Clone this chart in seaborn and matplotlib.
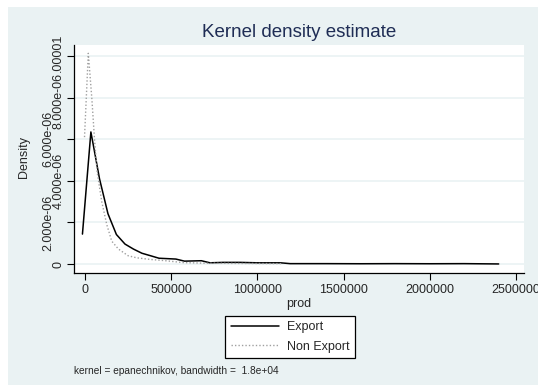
import numpy as np
import pandas as pd
import matplotlib
matplotlib.use("Agg")
import matplotlib.pyplot as plt
import matplotlib.transforms as mtransforms
import seaborn as sns

# kdensity values (x = prod, y = density)
export_x = [-15000, 34000, 84000, 133000, 182000, 232000, 281000, 330000, 380000,
            429000, 478000, 527000, 577000, 626000, 675000, 725000, 800000, 900000,
            1000000, 1134000, 1190000, 1400000, 1600000, 1800000, 2000000, 2200000, 2400000]
export_y = [1.44e-6, 6.35e-6, 4.1e-6, 2.42e-6, 1.42e-6, 0.96e-6, 0.72e-6, 0.52e-6, 0.40e-6,
            0.28e-6, 0.26e-6, 0.24e-6, 0.14e-6, 0.15e-6, 0.16e-6, 0.06e-6, 0.08e-6, 0.08e-6,
            0.06e-6, 0.06e-6, 0.02e-6, 0.02e-6, 0.015e-6, 0.02e-6, 0.015e-6, 0.02e-6, 0.005e-6]

nonexp_x = [-3000, 19000, 40000, 55000, 70000, 97000, 126000, 155000, 194000, 250000,
            300000, 380000, 455000, 570000, 700000, 900000, 1150000]
nonexp_y = [6.1e-6, 10.13e-6, 7.9e-6, 6.0e-6, 4.45e-6, 3.0e-6, 1.9e-6, 1.1e-6, 0.72e-6, 0.40e-6,
            0.30e-6, 0.22e-6, 0.17e-6, 0.07e-6, 0.04e-6, 0.03e-6, 0.02e-6]

xticks = [0, 500000, 1000000, 1500000, 2000000, 2500000]
yticks = [0, 2e-6, 4e-6, 6e-6, 8e-6, 1e-5]
ytick_labels = ["0", "2.000e-06", "4.000e-06", "6.000e-06", "8.000e-06", ".00001"]

bg = "#eaf2f3"
sns.set_style("white")
plt.rcParams["font.family"] = ["Liberation Sans", "DejaVu Sans"]

fig = plt.figure(figsize=(5.38, 3.85), dpi=100)
fig.patch.set_facecolor("white")
# stata-like outer region (small white margin top/left)
fig.patches.append(plt.Rectangle((8 / 538, 0), 1, 1 - 7 / 385, transform=fig.transFigure,
                                 facecolor=bg, edgecolor="none", zorder=-10))

ax = fig.add_axes([74 / 538, 1 - 273 / 385, 450 / 538, 228 / 385])
ax.set_facecolor("white")

df_exp = pd.DataFrame({"prod": export_x, "Density": export_y})
df_non = pd.DataFrame({"prod": nonexp_x, "Density": nonexp_y})

sns.lineplot(data=df_exp, x="prod", y="Density", ax=ax, color="black", lw=1.1,
             label="Export", legend=False)
sns.lineplot(data=df_non, x="prod", y="Density", ax=ax, color="#a0a0a0", lw=1.0,
             linestyle=(0, (1, 1.5)), label="Non Export", legend=False)

ax.set_xlim(-64000, 2547000)
ax.set_ylim(-4.3e-7, 1.053e-5)
ax.set_xticks(xticks)
ax.set_xticklabels([str(t) for t in xticks], fontsize=9)
ax.set_yticks(yticks)
ax.set_yticklabels([])
ax.yaxis.grid(True, color=bg, lw=1.2)
ax.set_axisbelow(True)

# y labels alternate between two columns, like the original
ytr = ax.get_yaxis_transform()
shifts = [0, 0, 0, 0, -3, 3]  # small vertical nudges (pixels) to keep the top two apart
for i, (t, lab) in enumerate(zip(yticks, ytick_labels)):
    xpos = -0.0571 if i in (1, 3) else -0.0349
    tr = mtransforms.offset_copy(ytr, fig=fig, x=0, y=shifts[i], units="dots")
    ax.text(xpos, t, lab, transform=tr, rotation=90, ha="center", va="center", fontsize=9)

for s in ["top", "right"]:
    ax.spines[s].set_visible(False)
for s in ["left", "bottom"]:
    ax.spines[s].set_color("black")
    ax.spines[s].set_linewidth(0.9)
ax.tick_params(axis="both", direction="out", length=5, width=0.8, color="black", bottom=True, left=True)
ax.tick_params(axis="x", pad=3)

ax.set_xlabel("prod", fontsize=9, labelpad=1)
ax.set_ylabel("Density", fontsize=9)
ax.yaxis.set_label_coords(-0.0978, 0.51)
ax.set_title("Kernel density estimate", fontsize=13.5, color="#1f2d55", pad=6)

handles, labels = ax.get_legend_handles_labels()
leg = fig.legend(handles, labels, loc="upper center", bbox_to_anchor=(290 / 538, 1 - 315.5 / 385),
                 fontsize=9, frameon=True, fancybox=False, edgecolor="black", framealpha=1,
                 handlelength=3.9, handletextpad=0.6, borderpad=0.45, labelspacing=0.6,
                 borderaxespad=0)
leg.get_frame().set_linewidth(0.9)

fig.text(74 / 538, 1 - 371 / 385, "kernel = epanechnikov, bandwidth =  1.8e+04",
         fontsize=7.3, va="center", ha="left")

fig.savefig("out.png", dpi=100, facecolor=fig.get_facecolor())
